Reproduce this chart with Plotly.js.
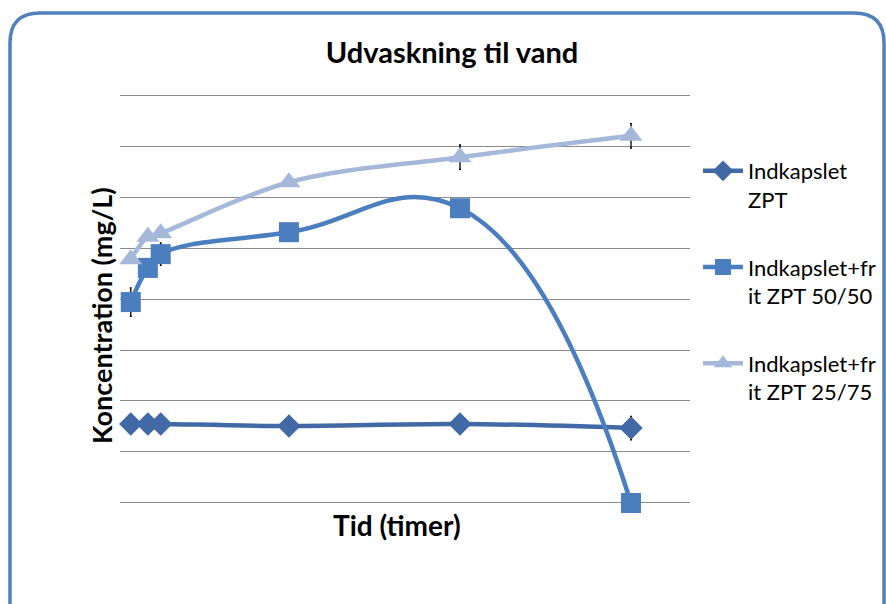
<!DOCTYPE html>
<html>
<head>
<meta charset="utf-8">
<script src="https://cdn.plot.ly/plotly-3.0.1.min.js"></script>
<style>
html,body{margin:0;padding:0;background:#fff;}
#chart{width:886px;height:604px;}
</style>
</head>
<body>
<div id="chart"></div>
<script>
// Data
const hours = [0.75, 1.75, 2.5, 10, 20, 30];
const seriesNames = ["Indkapslet<br>ZPT", "Indkapslet+fr<br>it ZPT 50/50", "Indkapslet+fr<br>it ZPT 25/75"];
const encapsulated = [1.55, 1.55, 1.55, 1.51, 1.55, 1.47];
const mix5050 = [3.94, 4.61, 4.88, 5.31, 5.78, 0.0];
const mix2575 = [4.78, 5.22, 5.29, 6.29, 6.78, 7.2];
const errEncapsulated = [0, 0, 0, 0, 0, 0.23];
const errMix5050 = [0.28, 0, 0.22, 0, 0, 0];
const errMix2575 = [0, 0, 0, 0, 0.24, 0.24];
const chartTitle = 'Udvaskning til vand';
const xTitle = 'Tid (timer)';
const yTitle = 'Koncentration (mg/L)';

const font = "Lato, 'Open Sans', sans-serif";

function mk(y, err, name, color, symbol, size, smooth) {
  return {
    x: hours, y: y, name: name, type: 'scatter', mode: 'lines+markers',
    line: {color: color, width: 4.5, shape: 'spline', smoothing: smooth},
    marker: {symbol: symbol, size: size, color: color},
    error_y: {type: 'data', array: err, visible: true, color: '#000', thickness: 1.3, width: 1},
    cliponaxis: false,
    legendgroup: name
  };
}

const traces = [
  mk(encapsulated, errEncapsulated, seriesNames[0], '#4169A6', 'diamond', 18, 1),
  mk(mix5050, errMix5050, seriesNames[1], '#4A7EBF', 'square', 20, 1.3),
  mk(mix2575, errMix2575, seriesNames[2], '#A5B8DA', 'triangle-up', 20, 1)
];

// frame (rounded border) in pixel coordinates -> paper
const L = 120, R = 690, T = 94, B = 504;
const Y0 = -0.02, Y1 = 8.02;
function px(x){ return ((x - L) / (R - L)).toFixed(4); }
function py(y){ return ((B - y) / (B - T)).toFixed(4); }
const fx0 = 10, fx1 = 884, fy0 = 13, fy1 = 612, rad = 30;
const framePath = 'M ' + px(fx0) + ',' + py(fy1) +
  ' L ' + px(fx0) + ',' + py(fy0 + rad) +
  ' Q ' + px(fx0) + ',' + py(fy0) + ' ' + px(fx0 + rad) + ',' + py(fy0) +
  ' L ' + px(fx1 - rad) + ',' + py(fy0) +
  ' Q ' + px(fx1) + ',' + py(fy0) + ' ' + px(fx1) + ',' + py(fy0 + rad) +
  ' L ' + px(fx1) + ',' + py(fy1);

const layout = {
  width: 886, height: 604,
  margin: {l: L, r: 886 - R, t: T, b: 604 - B},
  paper_bgcolor: '#fff', plot_bgcolor: '#fff',
  font: {family: font, color: '#000'},
  title: {text: '<b>' + chartTitle + '</b>', font: {family: font, size: 29, color: '#000'},
          x: 452/886, xanchor: 'center', y: 1 - 53/604, yanchor: 'middle', xref: 'container', yref: 'container'},
  xaxis: {range: [0.12, 33.45], showgrid: false, zeroline: false, showticklabels: false, ticks: '',
          showline: false, fixedrange: true},
  yaxis: {range: [Y0, Y1], dtick: 1, tick0: 0, showgrid: true, gridcolor: '#8a8a8a', gridwidth: 1, zeroline: false,
          showticklabels: false, ticks: '', showline: false, fixedrange: true},
  annotations: [
    {text: '<b>' + xTitle + '</b>', xref: 'paper', yref: 'paper', x: +px(397), y: +py(525),
     xanchor: 'center', yanchor: 'middle', showarrow: false, font: {family: font, size: 28, color: '#000'}},
    {text: '<b>' + yTitle + '</b>', xref: 'paper', yref: 'paper', x: +px(101), y: +py(316),
     xanchor: 'center', yanchor: 'middle', showarrow: false, textangle: -90,
     font: {family: font, size: 27, color: '#000'}}
  ],
  showlegend: true,
  legend: {xref: 'container', yref: 'container', x: 698/886, xanchor: 'left', y: 1 - 150/604, yanchor: 'top',
           font: {family: font, size: 22, color: '#000'}, traceorder: 'grouped', tracegroupgap: 36,
           valign: 'top', bgcolor: 'rgba(0,0,0,0)', itemwidth: 40},
  shapes: [{type: 'path', xref: 'paper', yref: 'paper', path: framePath,
            line: {color: '#4F81BD', width: 3.5}, layer: 'above'}]
};

Plotly.newPlot('chart', traces, layout, {displayModeBar: false, staticPlot: true});
</script>
</body>
</html>
